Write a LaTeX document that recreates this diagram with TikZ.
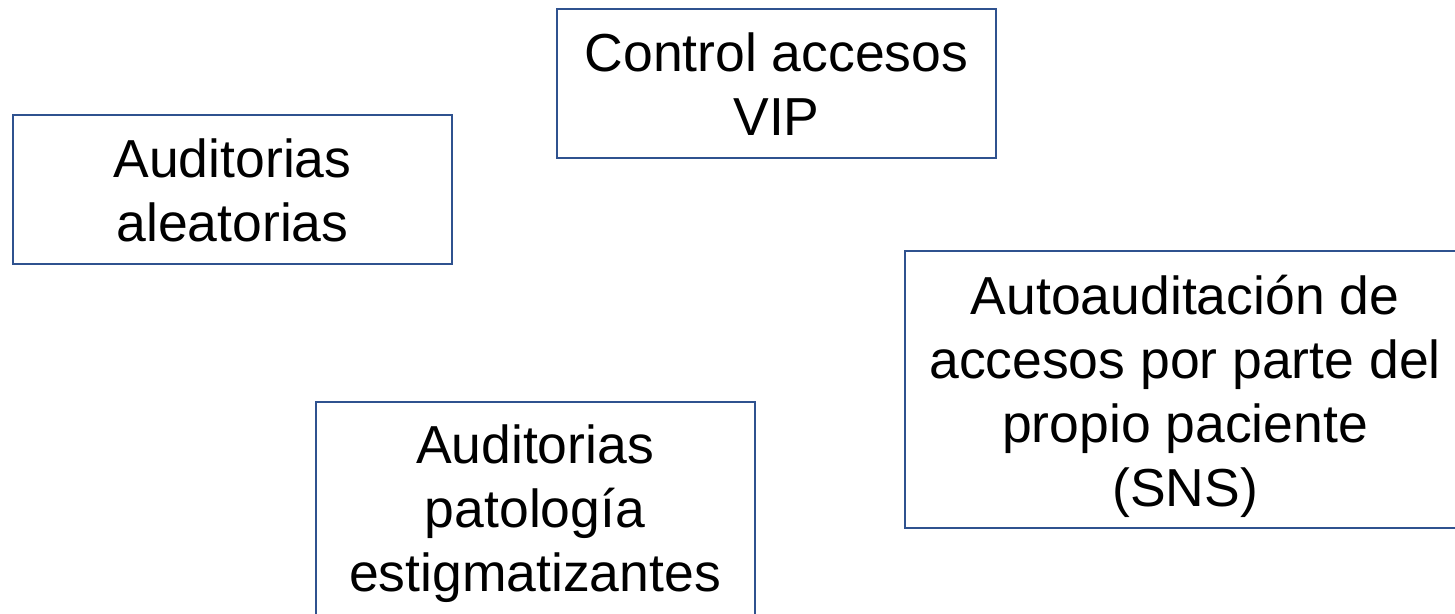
\documentclass[tikz,border=0pt]{standalone}
\usepackage{fontspec}
\setmainfont{Liberation Sans}
\usepackage{tikz}
\usetikzlibrary{positioning}
\definecolor{bordeazul}{HTML}{2F528F}

\begin{document}
\begin{tikzpicture}[
    x=1pt, y=-1pt,
    font=\fontsize{53.5}{64}\selectfont,
    medida/.style={
		rectangle,
		draw=bordeazul,
		line width=2pt,
		text centered,
		align=center,
		inner sep=0pt,
		minimum width=439pt,
		minimum height=149pt,
		fill=white
	}
  ]
  \useasboundingbox (0,0) rectangle (1455,613);
  \clip (0,0) rectangle (1455,613);
    % We start by placing the blocks

  \node [medida] (vip) at (776.5,83.5) {\rule{0pt}{39pt}Control accesos\\VIP};

  \node [medida] (aleatorias) at (232.5,189) {\rule{0pt}{42pt}Auditorias\\aleatorias};

  \node [medida, minimum width=560pt, minimum height=277pt] (paciente) at (1185,389.5)
 {\rule{0pt}{54pt}Autoauditación de\\accesos por parte del\\propio paciente\\(SNS)};

  \node [medida, minimum height=216pt] (estigma) at (535,510)
 {\rule{0pt}{47pt}Auditorias\\patología\\estigmatizantes};

\end{tikzpicture}
\end{document}
